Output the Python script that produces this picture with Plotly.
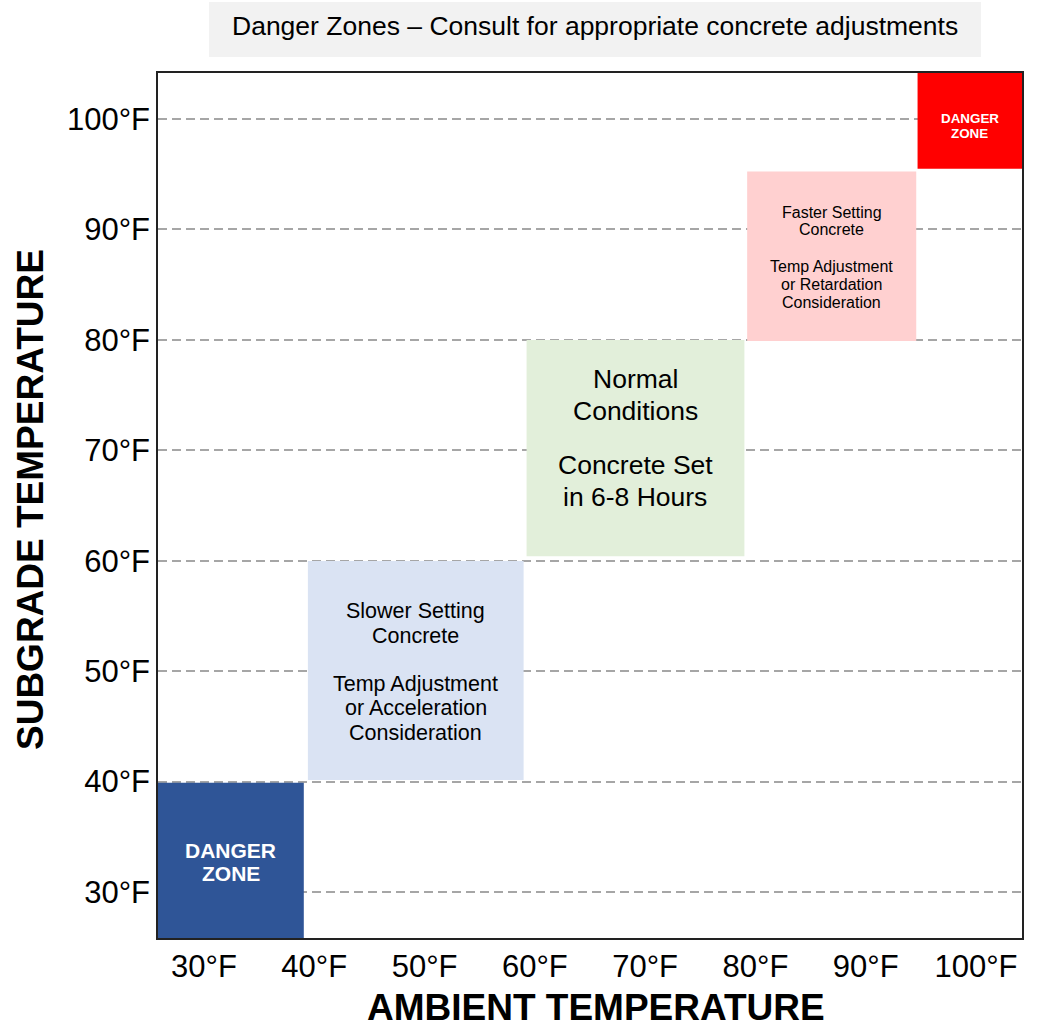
import plotly.graph_objects as go

# Zone data (temperatures in °F)
zone_names = ["Cold danger", "Slow", "Normal", "Fast", "Hot danger"]
zone_x0 = [25.83, 39.42, 59.25, 79.25, 94.7]
zone_x1 = [39.05, 58.98, 79.0, 94.58, 104.17]
zone_y0 = [25.83, 40.14, 60.4, 79.9, 95.5]
zone_y1 = [39.9, 59.98, 80.0, 95.25, 104.17]
zone_colors = ["#2f5597", "#dae3f3", "#e2efda", "#ffd0d0", "#ff0000"]
zone_paragraphs = [
    [["<b>DANGER</b>", "<b>ZONE</b>"]],
    [["Slower Setting", "Concrete"], ["Temp Adjustment", "or Acceleration", "Consideration"]],
    [["Normal", "Conditions"], ["Concrete Set", "in 6-8 Hours"]],
    [["Faster Setting", "Concrete"], ["Temp Adjustment", "or Retardation", "Consideration"]],
    [["<b>DANGER</b>", "<b>ZONE</b>"]],
]

tick_vals = [30, 40, 50, 60, 70, 80, 90, 100]
tick_labels = ["30°F", "40°F", "50°F", "60°F", "70°F", "80°F", "90°F", "100°F"]
axis_range = [25.83, 104.17]

# Text styling per zone (font size, line spacing px, paragraph gap px, vertical offset px)
text_colors = ["white", "#000000", "#000000", "#000000", "white"]
text_sizes = [21, 21.5, 26.5, 16, 13.4]
line_steps = [23, 24.5, 32, 17.9, 15]
para_gaps = [0, 48.3, 54, 36.7, 0]
text_offsets = [-1.5, -1.5, 10, -1, -5.3]

FONT = "Liberation Sans"
PW, PH, ML, MT = 864, 865, 158, 73

fig = go.Figure()

for i in range(len(zone_names)):
    x0, x1, y0, y1 = zone_x0[i], zone_x1[i], zone_y0[i], zone_y1[i]
    fig.add_trace(go.Scatter(
        x=[x0, x1, x1, x0, x0], y=[y0, y0, y1, y1, y0],
        fill="toself", fillcolor=zone_colors[i], mode="none",
        hoverinfo="skip", showlegend=False,
    ))
    lines, pos = [], []
    cur = 0.0
    for p, para in enumerate(zone_paragraphs[i]):
        if p > 0:
            cur += para_gaps[i] - line_steps[i]
        for line in para:
            lines.append(line)
            pos.append(cur)
            cur += line_steps[i]
    mid = (pos[0] + pos[-1]) / 2
    for line, ps in zip(lines, pos):
        fig.add_annotation(
            x=(x0 + x1) / 2, y=(y0 + y1) / 2, xref="x", yref="y",
            text=line, showarrow=False, yshift=-(ps - mid) + text_offsets[i],
            font=dict(family=FONT, size=text_sizes[i], color=text_colors[i]),
            align="center", xanchor="center", yanchor="middle",
        )

# Title box
fig.add_shape(type="rect", xref="paper", yref="paper",
              x0=(209 - ML) / PW, x1=(981 - ML) / PW,
              y0=1 + (MT - 57) / PH, y1=1 + (MT - 2) / PH,
              fillcolor="#f2f2f2", line=dict(width=0), layer="below")
fig.add_annotation(
    x=(595 - ML) / PW, y=1 + (MT - 25.5) / PH, xref="paper", yref="paper",
    text="Danger Zones – Consult for appropriate concrete adjustments",
    showarrow=False, font=dict(family=FONT, size=26.5, color="#000000"),
    xanchor="center", yanchor="middle",
)

# Axis titles
fig.add_annotation(
    x=(596 - ML) / PW, y=-(1007 - (MT + PH)) / PH, xref="paper", yref="paper",
    text="<b>AMBIENT TEMPERATURE</b>", showarrow=False,
    font=dict(family=FONT, size=37, color="#000000"),
    xanchor="center", yanchor="middle",
)
fig.add_annotation(
    x=-(ML - 30) / PW, y=(MT + PH - 500) / PH, xref="paper", yref="paper",
    text="<b>SUBGRADE TEMPERATURE</b>", showarrow=False, textangle=-90,
    font=dict(family=FONT, size=37, color="#000000"),
    xanchor="center", yanchor="middle",
)

axis_common = dict(
    tickvals=tick_vals, ticktext=tick_labels, range=axis_range,
    tickfont=dict(family=FONT, size=31, color="#000000"),
    showline=True, mirror=True, linecolor="#222222", linewidth=1.5,
    zeroline=False, ticks="",
)

fig.update_xaxes(showgrid=False, **axis_common)
fig.update_yaxes(showgrid=True, gridcolor="#a6a6a6",
                 griddash="9px,5px", gridwidth=1.6, **axis_common)

fig.update_layout(
    width=1041, height=1031,
    margin=dict(l=ML, r=1041 - ML - PW, t=MT, b=1031 - MT - PH),
    paper_bgcolor="white", plot_bgcolor="white",
    font=dict(family=FONT),
    showlegend=False,
)

fig.write_html("out.html", config={"displayModeBar": False},
               post_script="document.body.style.margin='0';")
